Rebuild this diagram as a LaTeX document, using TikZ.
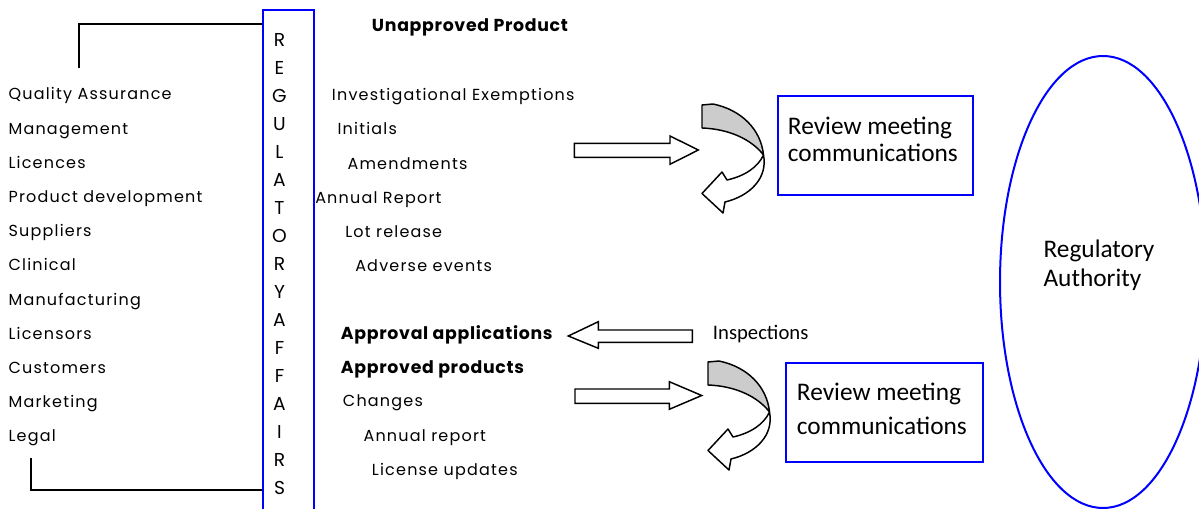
\documentclass[tikz,border=0pt]{standalone}
\usepackage{fontspec}
\setmainfont{Poppins}[LetterSpace=7.5]
\newfontfamily\calib{Carlito}
\usetikzlibrary{shapes.geometric}
\begin{document}
\begin{tikzpicture}[x=0.75pt,y=-0.75pt,
  lbl/.style={anchor=base west, inner sep=0pt, font=\fontsize{12}{14}\selectfont},
  hd/.style={anchor=base west, inner sep=0pt, font=\fontsize{13}{15}\selectfont\bfseries\addfontfeature{LetterSpace=4}},
  vlet/.style={anchor=base, inner sep=0pt, font=\fontsize{14}{16}\selectfont},
  ctext/.style={anchor=base west, inner sep=0pt, font=\calib\fontsize{19}{22}\selectfont},
  bluebox/.style={draw=blue, line width=1.5pt, rectangle, inner sep=0pt},
  blockarrow/.style={draw=black, line width=1.1pt, fill=white, line join=miter},
  bracket/.style={draw=black, line width=1.5pt},
  pics/uturn/.style={code={
    % shaded upper band
    \filldraw[fill=gray!40, draw=black, line width=1.1pt, line join=round]
      (702,105) -- (713,104) .. controls (742,110) and (761,130) .. (763.5,155)
      .. controls (752,140) and (730,129) .. (702,128) -- cycle;
    % white lower band with the head
    \filldraw[fill=white, draw=black, line width=1.1pt, line join=round]
      (763.5,155) .. controls (768,178) and (750,196) .. (725,202)
      -- (723,213) -- (702,193.5) -- (722,172) -- (727,180)
      .. controls (745,176) and (758,167) .. (763.5,155) -- cycle;
  }},
]
\useasboundingbox (0,0) rectangle (1199,509);

% Regulatory affairs column
\node[bluebox, minimum width=51.6*0.75pt, minimum height=515*0.75pt, anchor=north west] (ra) at (261.7,9.3) {};
\foreach \l [count=\i from 0] in {R,E,G,U,L,A,T,O,R,Y,A,F,F,A,I,R,S}
  \node[vlet] (v\i) at (279.5,46.7+28*\i) {\l};

% brackets joining the departments to the column
\coordinate (btop) at (79.3,68.3);
\coordinate (ytop) at (0,24);
\coordinate (bbot) at (30.7,458.3);
\coordinate (ybot) at (0,490);
\draw[bracket] (btop) |- (ra.west |- ytop);
\draw[bracket] (bbot) |- (ra.west |- ybot);

% departments
\foreach \t [count=\i from 0] in {Quality Assurance,Management,Licences,Product development,Suppliers,Clinical,Manufacturing,Licensors,Customers,Marketing,Legal}
  \node[lbl] (d\i) at (8.3,100+34.17*\i) {\t};

% unapproved product items
\node[hd] (unap) at (371.7,31.7) {Unapproved Product};
\node[lbl] (u1) at (331.7,100.7) {Investigational Exemptions};
\node[lbl] (u2) at (337.3,135) {Initials};
\node[lbl] (u3) at (347.3,169.3) {Amendments};
\node[lbl] (u4) at (315,203.3) {Annual Report};
\node[lbl] (u5) at (345,237.3) {Lot release};
\node[lbl] (u6) at (355,271.7) {Adverse events};

% approved product items
\node[hd] (a1) at (340.7,339.3) {Approval applications};
\node[hd] (a2) at (340.7,373.3) {Approved products};
\node[lbl] (a3) at (342.7,406.7) {Changes};
\node[lbl] (a4) at (363.3,441) {Annual report};
\node[lbl] (a5) at (371.7,475) {License updates};

% block arrows
\draw[blockarrow] (574.3,143.3) -- (670,143.3) -- (670,136) -- (698.3,150)
  -- (670,164.3) -- (670,157.3) -- (574.3,157.3) -- cycle;
\draw[blockarrow] (692.3,330) -- (598.3,330) -- (598.3,321.7) -- (568.3,336)
  -- (598.3,348.3) -- (598.3,342.3) -- (692.3,342.3) -- cycle;
\draw[blockarrow] (575,389) -- (669.3,389) -- (669.3,381.7) -- (701.7,395.5)
  -- (669.3,409.3) -- (669.3,403.3) -- (575,403.3) -- cycle;
\node[anchor=base west, inner sep=0pt, font=\calib\fontsize{15.5}{18}\selectfont] (insp) at (712.7,340) {Inspections};

% curved return arrows
\pic at (0,0) {uturn};
\pic at (6,257) {uturn};

% review meeting boxes
\node[bluebox, minimum width=194.4*0.75pt, minimum height=99*0.75pt] (rev1) at (875.5,145.5) {};
\node[ctext] (r1a) at (787.7,135) {Review meeting};
\node[ctext] (r1b) at (787.7,161.7) {communications};
\node[bluebox, minimum width=196.7*0.75pt, minimum height=98.4*0.75pt] (rev2) at (884.3,412.5) {};
\node[ctext] (r2a) at (796.7,400.5) {Review meeting};
\node[ctext] (r2b) at (796.7,434.5) {communications};

% regulatory authority
\node[draw=blue, line width=1.5pt, ellipse, minimum width=206*0.75pt, minimum height=452*0.75pt, inner sep=0pt] (auth) at (1103,282) {};
\node[ctext] (ra1) at (1043.3,257.3) {Regulatory};
\node[ctext] (ra2) at (1043.3,286.7) {Authority};
\end{tikzpicture}
\end{document}
